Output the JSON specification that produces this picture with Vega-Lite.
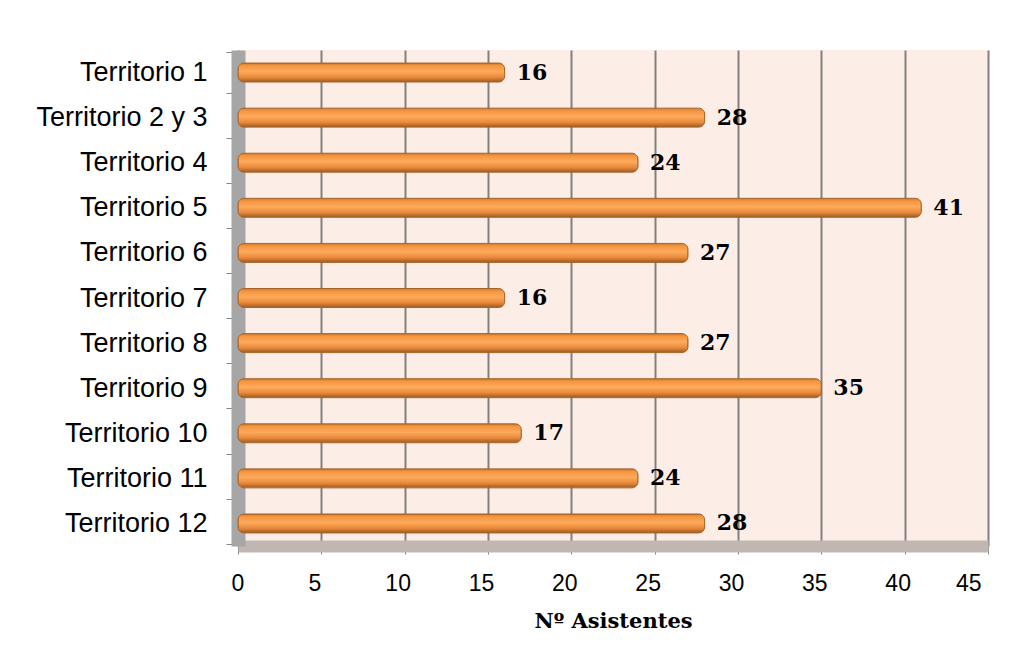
{
  "$schema": "https://vega.github.io/schema/vega-lite/v6.json",
  "width": 750,
  "height": 496,
  "padding": {"left": 35, "top": 36, "right": 10, "bottom": 10},
  "background": "white",
  "config": {
    "view": {"stroke": null, "fill": "#FCEEE7"},
    "font": "Liberation Sans"
  },
  "data": {
    "values": [
      {"territorio": "Territorio 1", "asistentes": 16},
      {"territorio": "Territorio 2 y 3", "asistentes": 28},
      {"territorio": "Territorio 4", "asistentes": 24},
      {"territorio": "Territorio 5", "asistentes": 41},
      {"territorio": "Territorio 6", "asistentes": 27},
      {"territorio": "Territorio 7", "asistentes": 16},
      {"territorio": "Territorio 8", "asistentes": 27},
      {"territorio": "Territorio 9", "asistentes": 35},
      {"territorio": "Territorio 10", "asistentes": 17},
      {"territorio": "Territorio 11", "asistentes": 24},
      {"territorio": "Territorio 12", "asistentes": 28}
    ]
  },
  "encoding": {
    "y": {
      "field": "territorio",
      "type": "nominal",
      "sort": null,
      "title": null,
      "axis": {
        "labelFont": "Liberation Sans",
        "labelFontSize": 27,
        "labelColor": "#000000",
        "labelPadding": 19,
        "labelLimit": 400,
        "tickBand": "extent",
        "tickSize": 12,
        "tickColor": "#868686",
        "tickWidth": 1,
        "domainColor": "#A6A6A6",
        "domainWidth": 14,
        "grid": false
      }
    },
    "x": {
      "field": "asistentes",
      "type": "quantitative",
      "scale": {"domain": [0, 45], "nice": false},
      "title": "Nº Asistentes",
      "axis": {
        "values": [0, 5, 10, 15, 20, 25, 30, 35, 40, 45],
        "labelFont": "Liberation Sans",
        "labelFontSize": 23,
        "labelColor": "#000000",
        "labelOffset": -7,
        "labelPadding": 18,
        "tickSize": 8,
        "tickColor": "#868686",
        "tickWidth": 1,
        "domainColor": "#C0B6B2",
        "domainWidth": 12,
        "grid": true,
        "gridColor": "#808080",
        "gridWidth": 2,
        "titleFont": "DejaVu Serif",
        "titleFontSize": 21,
        "titleFontWeight": "bold",
        "titleColor": "#000000",
        "titlePadding": 15
      }
    }
  },
  "layer": [
    {
      "mark": {
        "type": "bar",
        "height": 19,
        "cornerRadius": 6,
        "stroke": "#A8652A",
        "strokeWidth": 1,
        "color": {
          "gradient": "linear",
          "x1": 0, "y1": 0, "x2": 0, "y2": 1,
          "stops": [
            {"offset": 0, "color": "#C97A35"},
            {"offset": 0.15, "color": "#F7963F"},
            {"offset": 0.45, "color": "#FDAA5C"},
            {"offset": 0.75, "color": "#E8893A"},
            {"offset": 1, "color": "#9A5A24"}
          ]
        }
      }
    },
    {
      "mark": {
        "type": "text",
        "align": "left",
        "baseline": "middle",
        "dx": 12,
        "font": "DejaVu Serif",
        "fontSize": 22,
        "fontWeight": "bold",
        "color": "#000000"
      },
      "encoding": {
        "text": {"field": "asistentes", "type": "quantitative"}
      }
    }
  ]
}
